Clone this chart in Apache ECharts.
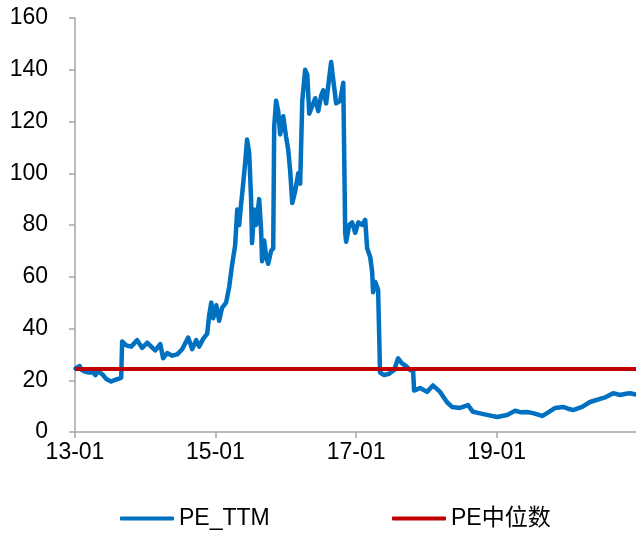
<!DOCTYPE html>
<html>
<head>
<meta charset="utf-8">
<script src="https://cdn.jsdelivr.net/npm/echarts@6/dist/echarts.min.js"></script>
<style>
  html, body { margin: 0; padding: 0; background: #fff; }
  #chart { width: 636px; height: 534px; }
</style>
</head>
<body>
<div id="chart"></div>
<script>
// Trading dates and PE (TTM) readings
const dates = [
  '2013-01-04','2013-01-14','2013-01-25','2013-02-04','2013-02-15','2013-02-25','2013-03-12','2013-03-22',
  '2013-04-06','2013-04-17','2013-05-02','2013-05-12','2013-05-27','2013-06-12','2013-06-22','2013-07-08',
  '2013-07-23','2013-08-13','2013-08-29','2013-09-03','2013-09-24','2013-10-20','2013-11-20','2013-12-16',
  '2014-01-11','2014-02-01','2014-02-22','2014-03-20','2014-04-04','2014-04-25','2014-05-21','2014-06-16',
  '2014-07-12','2014-08-12','2014-09-02','2014-09-23','2014-10-08','2014-10-29','2014-11-19','2014-11-29',
  '2014-12-10','2014-12-20','2015-01-05','2015-01-20','2015-02-04','2015-02-25','2015-03-13','2015-03-29',
  '2015-04-13','2015-04-24','2015-05-04','2015-05-14','2015-05-25','2015-06-04','2015-06-14','2015-06-25',
  '2015-07-05','2015-07-10','2015-07-21','2015-07-31','2015-08-16','2015-08-26','2015-08-31','2015-09-11',
  '2015-09-21','2015-10-02','2015-10-17','2015-10-28','2015-11-02','2015-11-12','2015-11-23','2015-12-03',
  '2015-12-19','2016-01-03','2016-01-14','2016-01-24','2016-02-04','2016-02-19','2016-03-06','2016-03-16',
  '2016-03-27','2016-04-11','2016-04-22','2016-05-02','2016-05-18','2016-06-02','2016-06-18','2016-07-03',
  '2016-07-14','2016-07-29','2016-08-14','2016-08-24','2016-09-04','2016-09-19','2016-10-10','2016-10-26',
  '2016-11-05','2016-11-10','2016-11-26','2016-12-11','2016-12-27','2017-01-12','2017-02-01','2017-02-17',
  '2017-02-27','2017-03-15','2017-03-25','2017-03-30','2017-04-10','2017-04-25','2017-05-05','2017-05-26',
  '2017-06-21','2017-07-17','2017-08-07','2017-08-27','2017-09-17','2017-10-08','2017-10-24','2017-10-29',
  '2017-11-29','2018-01-04','2018-02-04','2018-03-13','2018-04-18','2018-05-14','2018-06-25','2018-08-05',
  '2018-08-31','2018-10-07','2018-11-12','2019-01-03','2019-02-24','2019-04-07','2019-05-08','2019-06-08',
  '2019-07-09','2019-08-25','2019-09-20','2019-11-01','2019-12-12','2020-01-07','2020-02-02','2020-03-20',
  '2020-04-30','2020-06-21','2020-07-22','2020-08-28','2020-10-03','2020-11-03','2020-11-24','2020-12-25'
];
const peTTM = [
  24.5,25,25.5,24,23.5,24,23,22.5,
  23,22,23.5,23,22,20.5,19.8,19.5,
  20,20.5,21,35,33.5,33,35.5,32.5,
  34.5,33,31.5,34,28.5,30.5,29.5,30,
  32,36.5,32,35.5,33,36,38,45,
  50,44,49,43,48,50,56,65,
  72,86,80,88,96,104,113,108,
  90,73,86,80,90,78,66,74,
  68,65,70,71,118,128,124,115,
  122,114,109,101,88.5,93,100,96,
  128,140,138,123,126,129,124,130,
  132,127,137,143,136,127,128,135,
  77,73.5,80,81,77,81,80,82,
  71,67.5,62,54,58,55,23,22,
  22.5,24,28.5,26.5,25.5,24,23.5,16,
  17,15.5,18,15.5,11.5,9.7,9.3,10.4,
  7.8,7.2,6.6,5.8,6.6,8.2,7.6,7.7,
  7.3,6.2,7.3,9.3,9.7,9.0,8.5,9.7,
  11.6,12.8,13.5,15,14.3,14.8,15,14.5
];
const peMedian = 24.3;
const xTickDates = ['2013-01-01', '2015-01-01', '2017-01-01', '2019-01-01'];
const yTicks = [0, 20, 40, 60, 80, 100, 120, 140, 160];
const seriesNames = ['PE_TTM', 'PE中位数'];

const ts = d => Date.parse(d + 'T00:00:00Z');
const xStart = ts('2013-01-01');
const xEnd = ts(dates[dates.length - 1]);
const ttmData = dates.map((d, i) => [ts(d), peTTM[i]]);
const medianData = [[xStart, peMedian], [xEnd, peMedian]];
const xTickValues = xTickDates.map(ts);

const font = '"Liberation Sans", Arial, "Noto Sans CJK SC", sans-serif';
const axisGray = '#a6a6a6';

const chart = echarts.init(document.getElementById('chart'), null, { renderer: 'canvas' });
chart.setOption({
  animation: false,
  backgroundColor: '#ffffff',
  grid: { left: 75, right: 0, top: 18, bottom: 102, containLabel: false },
  xAxis: {
    type: 'value',
    min: xStart,
    max: xEnd,
    splitLine: { show: false },
    axisLine: { show: true, lineStyle: { color: axisGray, width: 1.5 } },
    axisTick: { show: true, length: 6, customValues: xTickValues, lineStyle: { color: axisGray, width: 1.5 } },
    axisLabel: {
      customValues: xTickValues,
      margin: 9,
      color: '#000',
      fontSize: 23,
      fontFamily: font,
      formatter: v => {
        const d = new Date(v);
        const yy = String(d.getUTCFullYear() % 100).padStart(2, '0');
        const mm = String(d.getUTCMonth() + 1).padStart(2, '0');
        return yy + '-' + mm;
      }
    }
  },
  yAxis: {
    type: 'value',
    min: yTicks[0],
    max: yTicks[yTicks.length - 1],
    interval: 20,
    splitLine: { show: false },
    axisLine: { show: true, lineStyle: { color: axisGray, width: 1.5 } },
    axisTick: { show: true, length: 6, lineStyle: { color: axisGray, width: 1.5 } },
    axisLabel: { color: '#000', fontSize: 23, fontFamily: font, margin: 27 }
  },
  legend: [
    {
      data: [seriesNames[0]],
      left: 120, top: 507, padding: 0,
      icon: 'roundRect', itemWidth: 54, itemHeight: 4, itemGap: 0,
      textStyle: { color: '#000', fontSize: 23, fontFamily: font }
    },
    {
      data: [seriesNames[1]],
      left: 392, top: 507, padding: 0,
      icon: 'roundRect', itemWidth: 54, itemHeight: 4, itemGap: 0,
      textStyle: { color: '#000', fontSize: 23, fontFamily: font }
    }
  ],
  series: [
    {
      name: seriesNames[0],
      type: 'line',
      data: ttmData,
      showSymbol: false,
      symbol: 'none',
      lineStyle: { color: '#0070C0', width: 4.5, join: 'round', cap: 'round' },
      itemStyle: { color: '#0070C0' },
      z: 2
    },
    {
      name: seriesNames[1],
      type: 'line',
      data: medianData,
      showSymbol: false,
      symbol: 'none',
      lineStyle: { color: '#C00000', width: 4 },
      itemStyle: { color: '#C00000' },
      z: 3
    }
  ]
});
</script>
</body>
</html>
